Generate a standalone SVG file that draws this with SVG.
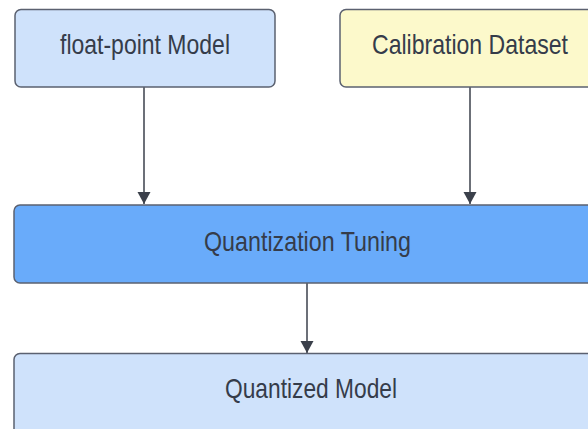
<svg xmlns="http://www.w3.org/2000/svg" width="588" height="429" viewBox="0 0 588 429">
<style>
.box{stroke:#5b6170;stroke-width:1.5}
.lbl{font-family:"Liberation Sans",Arial,sans-serif;font-size:28px;fill:#353c4a;text-anchor:middle}
.conn{stroke:#3b404b;stroke-width:1.5;fill:none}
</style>
<defs>
<marker id="ah" viewBox="0 0 12 20" refX="12" refY="10" markerWidth="12" markerHeight="20" markerUnits="userSpaceOnUse" orient="auto">
<path d="M0,3.5 L12,10 L0,16.5 Z" fill="#3b404b"/>
</marker>
</defs>
<rect width="588" height="429" fill="#ffffff"/>
<g id="connectors">
<line class="conn" x1="144" y1="87" x2="144" y2="204" marker-end="url(#ah)"/>
<line class="conn" x1="470" y1="87" x2="470" y2="204" marker-end="url(#ah)"/>
<line class="conn" x1="307" y1="283" x2="307" y2="353" marker-end="url(#ah)"/>
</g>
<g id="float-model">
<rect class="box" x="15" y="9.5" width="260" height="77.5" rx="6" fill="#cfe2fb"/>
<text class="lbl" x="145" y="54" textLength="170" lengthAdjust="spacingAndGlyphs">float-point Model</text>
</g>
<g id="calib">
<rect class="box" x="340" y="9.5" width="260" height="77.5" rx="6" fill="#fcf9cb"/>
<text class="lbl" x="470" y="54" textLength="196" lengthAdjust="spacingAndGlyphs">Calibration Dataset</text>
</g>
<g id="tuning">
<rect class="box" x="14" y="205" width="590" height="78" rx="6" fill="#69abfa"/>
<text class="lbl" x="307.5" y="251" textLength="207" lengthAdjust="spacingAndGlyphs">Quantization Tuning</text>
</g>
<g id="quantized">
<rect class="box" x="14" y="353.5" width="590" height="90" rx="6" fill="#cfe2fb"/>
<text class="lbl" x="311" y="398" textLength="172" lengthAdjust="spacingAndGlyphs">Quantized Model</text>
</g>
</svg>
